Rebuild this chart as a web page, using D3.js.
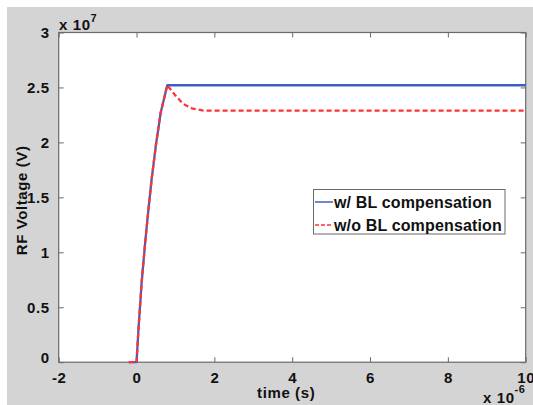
<!DOCTYPE html>
<html><head><meta charset="utf-8">
<script src="https://cdn.jsdelivr.net/npm/d3@7"></script>
<style>body{margin:0;background:#fff}svg{display:block}</style>
</head><body>
<svg id="c" width="533" height="405"></svg>
<script>
// time in microseconds (x 10^-6 s), voltage in units of 10^7 V
const tWith = [-0.2, 0, 0.05, 0.13, 0.22, 0.30, 0.39, 0.50, 0.62, 0.79, 10];
const vWith = [0, 0, 0.30, 0.72, 1.08, 1.37, 1.67, 1.98, 2.27, 2.52, 2.52];
const tWithout = [-0.2, 0, 0.05, 0.13, 0.22, 0.30, 0.39, 0.50, 0.62, 0.79, 0.99, 1.2, 1.42, 1.72, 10];
const vWithout = [0, 0, 0.30, 0.72, 1.08, 1.37, 1.67, 1.98, 2.27, 2.52, 2.43, 2.35, 2.31, 2.29, 2.29];
const xTicks = [-2, 0, 2, 4, 6, 8, 10];
const yTicks = [0, 0.5, 1, 1.5, 2, 2.5, 3];
const seriesNames = ["w/ BL compensation", "w/o BL compensation"];

const svg = d3.select("#c");
const font = "'Liberation Sans', Arial, sans-serif";
svg.append("rect").attr("x", 7).attr("y", 7).attr("width", 526).attr("height", 398).attr("fill", "#d4d4d4");

const L = 58.7, R = 525.7, T = 32.5, B = 362.2;
const x = d3.scaleLinear().domain([-2, 10]).range([L, R]);
const y = d3.scaleLinear().domain([0, 3]).range([B, T]);

svg.append("rect").attr("x", L).attr("y", T).attr("width", R - L).attr("height", B - T).attr("fill", "#fff");

const axColor = "#6a6a6a";
function styleAxis(g) {
  g.select(".domain").remove();
  g.selectAll(".tick line").attr("stroke", axColor).attr("stroke-width", 1);
}
function styleText(sel) {
  sel.attr("font-family", font).attr("font-size", 15).attr("font-weight", "bold")
    .attr("fill", "#111").attr("letter-spacing", 0.6);
}
const fmt = d => String(d);
// bottom axis with labels
const gx = svg.append("g").attr("transform", `translate(0,${B})`)
  .call(d3.axisBottom(x).tickValues(xTicks).tickSizeInner(-5).tickSizeOuter(0).tickPadding(10).tickFormat(fmt));
styleAxis(gx);
styleText(gx.selectAll("text"));
// top ticks
const gxt = svg.append("g").attr("transform", `translate(0,${T})`)
  .call(d3.axisTop(x).tickValues(xTicks).tickSizeInner(-5).tickSizeOuter(0).tickFormat(""));
styleAxis(gxt);
// left axis
const gy = svg.append("g").attr("transform", `translate(${L},0)`)
  .call(d3.axisLeft(y).tickValues(yTicks).tickSizeInner(-5).tickSizeOuter(0).tickPadding(9).tickFormat(fmt));
styleAxis(gy);
styleText(gy.selectAll("text"));
gy.selectAll(".tick").filter(d => d === 0).select("text").attr("dy", "0.05em");
// right ticks
const gyr = svg.append("g").attr("transform", `translate(${R},0)`)
  .call(d3.axisRight(y).tickValues(yTicks).tickSizeInner(-5).tickSizeOuter(0).tickFormat(""));
styleAxis(gyr);

// box
svg.append("rect").attr("x", L).attr("y", T).attr("width", R - L).attr("height", B - T)
  .attr("fill", "none").attr("stroke", axColor).attr("stroke-width", 1.2);

// lines
const line = d3.line().x(d => x(d[0])).y(d => y(d[1]));
const dWith = tWith.map((t, i) => [t, vWith[i]]);
const dWithout = tWithout.map((t, i) => [t, vWithout[i]]);
const blue = "#3f5fc0", red = "#ff3333";
svg.append("path").datum(dWith).attr("d", line).attr("fill", "none").attr("stroke", blue)
  .attr("stroke-width", 2.3).attr("stroke-linejoin", "round");
svg.append("path").datum(dWithout).attr("d", line).attr("fill", "none").attr("stroke", red)
  .attr("stroke-width", 2.3).attr("stroke-dasharray", "5,3").attr("stroke-linejoin", "round");

// exponent labels
const e1 = svg.append("text").attr("x", 59).attr("y", 30);
styleText(e1);
e1.append("tspan").text("x 10");
e1.append("tspan").attr("dy", -8).attr("font-size", 11).text("7");
const e2 = svg.append("text").attr("x", 483).attr("y", 403);
styleText(e2);
e2.append("tspan").text("x 10");
e2.append("tspan").attr("dy", -10).attr("font-size", 11).text("-6");

// axis titles
const xt = svg.append("text").attr("x", (L + R) / 2 - 6).attr("y", 398).attr("text-anchor", "middle").text("time (s)");
styleText(xt);
const yt = svg.append("text").attr("transform", `translate(27,${(T + B) / 2 + 3}) rotate(-90)`).attr("text-anchor", "middle").text("RF Voltage (V)");
styleText(yt);

// legend
const lg = svg.append("g");
lg.append("rect").attr("x", 313.5).attr("y", 189.5).attr("width", 191.5).attr("height", 44.5)
  .attr("fill", "#fff").attr("stroke", axColor).attr("stroke-width", 1);
const legColors = [blue, red], legDash = [null, "4,2"];
seriesNames.forEach((n, i) => {
  const yy = 202 + i * 23;
  lg.append("line").attr("x1", 315).attr("x2", 333).attr("y1", yy).attr("y2", yy)
    .attr("stroke", legColors[i]).attr("stroke-width", 1.5).attr("stroke-dasharray", legDash[i]);
  const tx = lg.append("text").attr("x", 334).attr("y", yy + 5.5).text(n);
  styleText(tx);
  tx.attr("font-size", 16).attr("letter-spacing", 0.15);
});
</script>
</body></html>
